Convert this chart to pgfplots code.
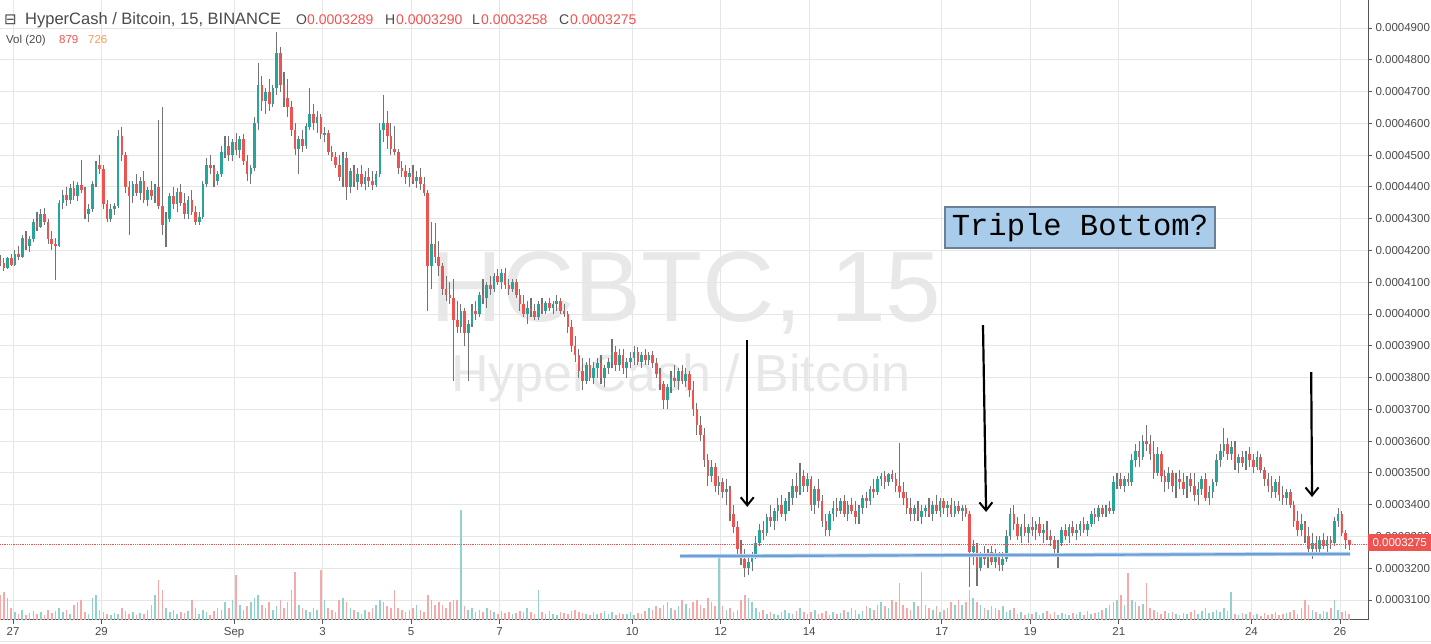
\documentclass[border=0pt]{standalone}
\usepackage{pgfplots}
\pgfplotsset{compat=1.18}
\usepackage{pgfplotstable}
\usepackage{fontspec}
\setmainfont{Liberation Sans}
\newfontfamily\dejavu{DejaVu Sans}
\newfontfamily\mono{Liberation Mono}
\usetikzlibrary{arrows.meta}
\definecolor{upc}{HTML}{26A69A}
\definecolor{dnc}{HTML}{EF5350}
\definecolor{wick}{HTML}{737375}
\definecolor{upv}{HTML}{93D2CC}
\definecolor{dnv}{HTML}{F7A9A7}
\definecolor{gridc}{HTML}{E6E6E6}
\definecolor{wm}{HTML}{E8E8E8}
\definecolor{txt}{HTML}{4A4A4A}
\definecolor{axc}{HTML}{555555}
\definecolor{bline}{HTML}{6A9FD8}
\definecolor{boxf}{HTML}{A8CCEA}
\definecolor{boxd}{HTML}{6B7F95}
\definecolor{orng}{HTML}{FF9850}
% price in units of 1e-7 BTC, v = volume bar height
\pgfplotstableread{
o h l c v
4170 4185 4150 4160 25
4160 4175 4135 4145 28
4145 4180 4140 4175 22
4175 4190 4150 4155 12
4155 4200 4150 4190 8
4190 4215 4170 4180 6
4180 4250 4175 4240 10
4240 4260 4200 4215 5
4215 4245 4195 4235 7
4235 4300 4225 4290 9
4290 4320 4260 4275 6
4275 4330 4270 4315 8
4315 4335 4280 4290 5
4290 4300 4220 4235 10
4235 4260 4200 4220 7
4220 4240 4107 4215 9
4215 4360 4210 4350 12
4350 4390 4330 4375 8
4375 4400 4340 4360 10
4360 4410 4345 4395 6
4395 4420 4360 4370 15
4370 4415 4355 4405 18
4405 4485 4380 4390 20
4390 4400 4300 4315 8
4315 4345 4290 4330 6
4330 4420 4320 4410 22
4410 4480 4400 4470 25
4470 4500 4440 4455 10
4455 4470 4330 4345 8
4345 4360 4290 4300 6
4300 4345 4290 4330 5
4330 4350 4310 4340 7
4340 4580 4335 4560 6
4560 4590 4480 4500 12
4500 4510 4380 4400 9
4400 4420 4250 4370 6
4370 4420 4350 4410 8
4410 4440 4370 4380 5
4380 4430 4360 4420 7
4420 4450 4350 4360 6
4360 4400 4340 4390 10
4390 4420 4360 4370 15
4370 4410 4350 4400 25
4400 4610 4330 4340 40
4340 4650 4250 4280 30
4280 4320 4210 4300 12
4300 4380 4290 4370 8
4370 4400 4330 4345 10
4345 4395 4320 4385 6
4385 4410 4340 4350 8
4350 4380 4300 4315 7
4315 4370 4300 4360 9
4360 4390 4310 4320 20
4320 4340 4280 4290 12
4290 4320 4280 4305 6
4305 4420 4300 4410 10
4410 4490 4400 4470 8
4470 4500 4440 4460 5
4460 4470 4400 4420 9
4420 4450 4405 4440 12
4440 4530 4430 4510 10
4510 4560 4490 4530 18
4530 4560 4480 4500 12
4500 4550 4480 4540 20
4540 4570 4500 4515 45
4515 4560 4490 4550 15
4550 4565 4470 4480 10
4480 4500 4420 4440 14
4440 4470 4410 4460 18
4460 4620 4450 4600 22
4600 4790 4580 4720 25
4720 4750 4640 4670 15
4670 4710 4630 4700 12
4700 4740 4640 4660 18
4660 4720 4650 4710 10
4710 4887 4690 4820 14
4820 4840 4700 4720 20
4720 4760 4650 4680 12
4680 4740 4620 4650 18
4650 4670 4560 4580 30
4580 4600 4500 4520 48
4520 4560 4440 4550 15
4550 4580 4510 4530 12
4530 4600 4520 4590 10
4590 4710 4580 4630 8
4630 4660 4580 4600 12
4600 4640 4570 4620 10
4620 4630 4550 4565 50
4565 4590 4540 4570 20
4570 4580 4500 4510 12
4510 4530 4480 4495 10
4495 4510 4460 4470 8
4470 4500 4420 4430 20
4430 4510 4400 4490 22
4490 4510 4360 4400 18
4400 4460 4380 4450 12
4450 4470 4400 4415 10
4415 4460 4390 4440 8
4440 4470 4400 4410 6
4410 4450 4390 4430 10
4430 4460 4400 4420 8
4420 4450 4390 4405 12
4405 4450 4400 4440 15
4440 4600 4430 4580 20
4580 4690 4540 4600 18
4600 4640 4520 4560 14
4560 4600 4500 4520 12
4520 4590 4500 4510 30
4510 4520 4440 4460 12
4460 4480 4430 4450 10
4450 4470 4410 4430 8
4430 4460 4400 4445 10
4445 4470 4410 4420 12
4420 4450 4395 4430 15
4430 4460 4390 4410 10
4410 4430 4370 4380 8
4380 4390 4010 4150 25
4150 4290 4080 4220 20
4220 4286 4160 4180 15
4180 4230 4120 4150 18
4150 4160 4060 4080 15
4080 4120 4040 4060 12
4060 4100 4030 4050 18
4050 4110 3790 3980 20
3980 4040 3940 3960 20
3960 4030 3940 4010 110
4010 4020 3900 3940 14
3940 3980 3790 3970 10
3970 4030 3960 4010 12
4010 4040 3980 4000 8
4000 4070 3990 4060 10
4060 4110 4030 4050 8
4050 4100 4020 4090 12
4090 4120 4060 4080 10
4080 4130 4070 4120 8
4120 4140 4090 4100 6
4100 4140 4080 4130 9
4130 4145 4080 4090 7
4090 4110 4060 4080 8
4080 4110 4070 4100 6
4100 4110 4050 4060 7
4060 4080 4010 4030 9
4030 4060 3990 4000 8
4000 4040 3970 4020 12
4020 4050 3990 4010 8
4010 4030 3980 3990 6
3990 4040 3980 4030 30
4030 4050 4000 4010 8
4010 4040 4000 4035 6
4035 4050 4010 4020 9
4020 4040 4000 4030 6
4030 4060 4010 4040 5
4040 4050 4000 4010 8
4010 4030 3990 4000 7
4000 4010 3940 3960 6
3960 3980 3880 3900 9
3900 3930 3850 3870 10
3870 3890 3800 3820 8
3820 3860 3760 3790 7
3790 3850 3780 3840 6
3840 3860 3790 3800 5
3800 3850 3780 3830 8
3830 3860 3800 3845 6
3845 3870 3780 3800 7
3800 3840 3770 3830 9
3830 3860 3810 3850 6
3850 3920 3830 3880 8
3880 3900 3820 3840 5
3840 3890 3820 3870 7
3870 3890 3810 3830 6
3830 3860 3800 3850 6
3850 3880 3830 3860 8
3860 3900 3840 3880 5
3880 3895 3840 3850 7
3850 3880 3830 3870 6
3870 3890 3840 3855 9
3855 3880 3840 3870 12
3870 3885 3830 3845 10
3845 3860 3800 3810 14
3810 3830 3760 3780 12
3780 3790 3700 3730 15
3730 3780 3700 3770 18
3770 3820 3750 3800 12
3800 3840 3770 3790 10
3790 3830 3760 3820 14
3820 3840 3780 3790 20
3790 3830 3770 3810 16
3810 3820 3740 3760 12
3760 3790 3680 3700 18
3700 3720 3620 3650 20
3650 3680 3600 3620 15
3620 3640 3520 3540 12
3540 3560 3460 3490 22
3490 3540 3470 3520 18
3520 3530 3440 3460 14
3460 3490 3430 3470 63
3470 3485 3420 3440 14
3440 3480 3400 3450 10
3450 3460 3350 3370 12
3370 3400 3310 3330 8
3330 3350 3240 3260 10
3260 3290 3210 3230 20
3230 3260 3172 3200 25
3200 3240 3180 3220 22
3220 3250 3190 3240 18
3240 3300 3230 3280 12
3280 3340 3270 3320 8
3320 3350 3290 3310 10
3310 3370 3300 3360 6
3360 3400 3330 3350 8
3350 3390 3320 3380 6
3380 3420 3350 3400 5
3400 3430 3360 3370 8
3370 3420 3350 3410 10
3410 3440 3380 3420 7
3420 3480 3400 3460 6
3460 3500 3420 3440 9
3440 3530 3430 3490 12
3490 3510 3440 3460 8
3460 3500 3440 3480 6
3480 3490 3380 3400 8
3400 3460 3370 3450 10
3450 3480 3390 3410 6
3410 3430 3330 3350 7
3350 3370 3300 3320 9
3320 3380 3300 3370 5
3370 3410 3350 3390 8
3390 3420 3360 3380 6
3380 3420 3370 3410 7
3410 3430 3360 3370 10
3370 3410 3350 3400 8
3400 3420 3370 3380 12
3380 3410 3340 3360 10
3360 3400 3340 3390 6
3390 3430 3370 3420 9
3420 3440 3390 3410 14
3410 3460 3400 3450 12
3450 3480 3420 3440 10
3440 3490 3430 3480 15
3480 3500 3460 3490 18
3490 3505 3450 3470 14
3470 3500 3460 3495 12
3495 3510 3470 3480 20
3480 3500 3440 3460 18
3460 3595 3420 3440 37
3440 3470 3400 3420 15
3420 3440 3370 3390 12
3390 3420 3350 3370 10
3370 3400 3350 3390 18
3390 3410 3350 3360 14
3360 3400 3340 3380 48
3380 3400 3360 3390 15
3390 3420 3360 3370 12
3370 3410 3350 3400 10
3400 3430 3370 3380 14
3380 3420 3360 3410 8
3410 3420 3370 3390 10
3390 3410 3360 3400 12
3400 3420 3360 3370 18
3370 3410 3360 3395 15
3395 3410 3370 3380 20
3380 3400 3350 3390 15
3390 3400 3360 3370 18
3370 3380 3140 3250 30
3250 3290 3210 3270 22
3270 3280 3145 3200 18
3200 3250 3190 3240 15
3240 3270 3210 3230 12
3230 3260 3200 3250 10
3250 3270 3210 3220 14
3220 3260 3200 3240 12
3240 3250 3190 3210 10
3210 3250 3190 3230 14
3230 3320 3220 3300 8
3300 3390 3290 3370 10
3370 3400 3320 3340 12
3340 3360 3290 3300 6
3300 3340 3280 3330 8
3330 3370 3300 3310 5
3310 3340 3280 3330 7
3330 3360 3300 3320 6
3320 3350 3290 3340 8
3340 3360 3300 3310 5
3310 3340 3280 3320 7
3320 3350 3290 3300 9
3300 3320 3270 3290 6
3290 3300 3240 3260 8
3260 3290 3200 3280 5
3280 3330 3270 3320 7
3320 3340 3290 3300 6
3300 3340 3280 3330 5
3330 3350 3300 3310 7
3310 3340 3290 3320 6
3320 3350 3300 3340 8
3340 3360 3310 3320 5
3320 3350 3300 3340 9
3340 3380 3330 3370 6
3370 3390 3340 3360 7
3360 3400 3350 3390 8
3390 3400 3360 3370 10
3370 3400 3360 3390 12
3390 3410 3370 3380 15
3380 3490 3370 3470 18
3470 3500 3450 3480 20
3480 3500 3450 3460 25
3460 3490 3440 3480 15
3480 3500 3460 3470 47
3470 3560 3460 3540 20
3540 3590 3520 3570 18
3570 3600 3520 3550 14
3550 3620 3540 3600 16
3600 3650 3570 3590 37
3590 3620 3540 3560 12
3560 3600 3480 3500 10
3500 3580 3490 3560 8
3560 3570 3470 3490 6
3490 3510 3440 3470 9
3470 3520 3450 3500 7
3500 3510 3440 3460 8
3460 3500 3420 3480 6
3480 3510 3450 3470 5
3470 3500 3430 3450 7
3450 3490 3420 3480 6
3480 3500 3440 3460 8
3460 3500 3410 3430 10
3430 3470 3400 3450 6
3450 3490 3430 3480 9
3480 3500 3410 3420 12
3420 3460 3400 3440 7
3440 3480 3420 3470 8
3470 3560 3460 3540 10
3540 3590 3520 3570 8
3570 3640 3550 3590 12
3590 3610 3540 3560 9
3560 3600 3540 3580 28
3580 3600 3510 3530 6
3530 3560 3500 3550 5
3550 3570 3520 3530 7
3530 3570 3510 3560 6
3560 3580 3520 3540 8
3540 3560 3500 3520 5
3520 3570 3510 3550 6
3550 3560 3500 3510 4
3510 3520 3460 3480 7
3480 3500 3440 3460 5
3460 3490 3420 3440 6
3440 3480 3420 3470 8
3470 3490 3410 3430 5
3430 3460 3400 3420 6
3420 3450 3400 3440 7
3440 3450 3390 3400 8
3400 3410 3330 3350 10
3350 3380 3300 3320 6
3320 3370 3300 3340 12
3340 3350 3280 3300 20
3300 3330 3240 3260 15
3260 3310 3230 3280 10
3280 3300 3240 3260 8
3260 3300 3250 3290 6
3290 3310 3260 3270 9
3270 3300 3250 3290 8
3290 3300 3260 3280 12
3280 3360 3270 3350 20
3350 3390 3330 3370 10
3370 3380 3300 3310 8
3310 3320 3260 3289 9
3289 3290 3258 3275 6
}\candles
\begin{document}
\begin{tikzpicture}
\useasboundingbox (0pt,-24pt) rectangle (1431pt,620pt);
% watermark
\node[anchor=base, text=wm, font=\fontsize{100}{100}\selectfont, inner sep=0] at (686pt,298pt) {HCBTC, 15};
\node[anchor=base, text=wm, font=\fontsize{52}{52}\selectfont, inner sep=0] at (681pt,228pt) {HyperCash / Bitcoin};
\begin{axis}[
  at={(0pt,0pt)}, anchor=south west, scale only axis,
  width=1368pt, height=620pt,
  xmin=-0.294, xmax=30.635, ymin=3037, ymax=4988.1,
  axis x line*=bottom, axis y line*=right,
  axis line style={axc, line width=1pt},
  tick align=outside, major tick length=4pt,
  tick style={axc, line width=0.8pt},
  xtick={0,2,5,7,9,11,14,16,18,21,23,25,28,30},
  xticklabels={27,29,Sep,3,5,7,10,12,14,17,19,21,24,26},
  ytick={3100,3200,3300,3400,3500,3600,3700,3800,3900,4000,4100,4200,4300,4400,4500,4600,4700,4800,4900},
  yticklabels={0.0003100,0.0003200,0.0003300,0.0003400,0.0003500,0.0003600,0.0003700,0.0003800,0.0003900,0.0004000,0.0004100,0.0004200,0.0004300,0.0004400,0.0004500,0.0004600,0.0004700,0.0004800,0.0004900},
  ticklabel style={font=\fontsize{11.5}{13}\selectfont, text=txt},
  grid=major, major grid style={gridc, line width=0.8pt},
  clip=true,
]
% volume
\addplot[ycomb, draw=upv, line width=1.6pt, mark=none,
  restrict expr to domain={\thisrow{c}-\thisrow{o}}{0:100000}]
  table[x expr=\coordindex/12-0.29, y expr=3037+3.147*\thisrow{v}] {\candles};
\addplot[ycomb, draw=dnv, line width=1.6pt, mark=none,
  restrict expr to domain={\thisrow{o}-\thisrow{c}}{0.5:100000}]
  table[x expr=\coordindex/12-0.29, y expr=3037+3.147*\thisrow{v}] {\candles};
% wicks
\addplot[draw=none, mark=none,
  error bars/.cd, y dir=both, y explicit, error mark=none,
  error bar style={draw=wick, solid, line width=1.1pt}]
  table[x expr=\coordindex/12-0.29, y expr=(\thisrow{h}+\thisrow{l})/2,
        y error expr=(\thisrow{h}-\thisrow{l})/2] {\candles};
% bodies up
\addplot[draw=none, mark=none,
  restrict expr to domain={\thisrow{c}-\thisrow{o}}{0:100000},
  error bars/.cd, y dir=both, y explicit, error mark=none,
  error bar style={draw=upc, solid, line width=2.6pt}]
  table[x expr=\coordindex/12-0.29, y expr=(\thisrow{o}+\thisrow{c})/2,
        y error expr=abs(\thisrow{c}-\thisrow{o})/2] {\candles};
% bodies down
\addplot[draw=none, mark=none,
  restrict expr to domain={\thisrow{o}-\thisrow{c}}{0.5:100000},
  error bars/.cd, y dir=both, y explicit, error mark=none,
  error bar style={draw=dnc, solid, line width=2.6pt}]
  table[x expr=\coordindex/12-0.29, y expr=(\thisrow{o}+\thisrow{c})/2,
        y error expr=abs(\thisrow{c}-\thisrow{o})/2] {\candles};
% annotations
\draw[dnc, densely dotted, line width=0.8pt] (axis cs:-0.294,3275) -- (axis cs:30.635,3275);
\draw[bline!45, line width=4pt] (axis cs:15.08,3238) -- (axis cs:30.23,3245);
\draw[bline, line width=2.2pt] (axis cs:15.08,3238) -- (axis cs:30.23,3245);
\draw[black, line width=2.2pt, -{Straight Barb[length=8pt,width=13pt,line width=2pt]}] (axis cs:16.60,3918) -- (axis cs:16.60,3393);
\draw[black, line width=2.2pt, -{Straight Barb[length=8pt,width=13pt,line width=2pt]}] (axis cs:21.93,3965) -- (axis cs:22.00,3377);
\draw[black, line width=2.2pt, -{Straight Barb[length=8pt,width=13pt,line width=2pt]}] (axis cs:29.35,3817) -- (axis cs:29.37,3424);
\end{axis}
% current price label
\node[fill=dnc, text=white, font=\fontsize{11.5}{13}\selectfont, minimum width=63pt, minimum height=17pt, inner sep=0, anchor=west] at (1368pt,77pt) {0.0003275};
% text box
\node[draw=boxd, fill=boxf, line width=1.2pt, minimum width=270pt, minimum height=41pt, inner sep=0,
  font=\mono\fontsize{30.5}{32}\selectfont] at (1080pt,392.5pt) {Triple Bottom?};
% header
\node[anchor=base west, inner sep=0, text=txt, font=\dejavu\fontsize{15}{18}\selectfont] at (4pt,595pt) {⊟};
\node[anchor=base west, inner sep=0, text=txt, font=\fontsize{16.5}{18}\selectfont] at (25pt,595pt) {HyperCash / Bitcoin, 15, BINANCE};
\node[anchor=base west, inner sep=0, text=txt, font=\fontsize{14}{16}\selectfont] at (296pt,595pt) {O};
\node[anchor=base west, inner sep=0, text=dnc, font=\fontsize{14}{16}\selectfont] at (307pt,595pt) {0.0003289};
\node[anchor=base west, inner sep=0, text=txt, font=\fontsize{14}{16}\selectfont] at (385pt,595pt) {H};
\node[anchor=base west, inner sep=0, text=dnc, font=\fontsize{14}{16}\selectfont] at (396pt,595pt) {0.0003290};
\node[anchor=base west, inner sep=0, text=txt, font=\fontsize{14}{16}\selectfont] at (472pt,595pt) {L};
\node[anchor=base west, inner sep=0, text=dnc, font=\fontsize{14}{16}\selectfont] at (481pt,595pt) {0.0003258};
\node[anchor=base west, inner sep=0, text=txt, font=\fontsize{14}{16}\selectfont] at (559pt,595pt) {C};
\node[anchor=base west, inner sep=0, text=dnc, font=\fontsize{14}{16}\selectfont] at (570pt,595pt) {0.0003275};
\node[anchor=base west, inner sep=0, text=txt, font=\fontsize{11.5}{13}\selectfont] at (6pt,576pt) {Vol (20)};
\node[anchor=base west, inner sep=0, text=dnc, font=\fontsize{11.5}{13}\selectfont] at (59pt,576pt) {879};
\node[anchor=base west, inner sep=0, text=orng, font=\fontsize{11.5}{13}\selectfont] at (88pt,576pt) {726};
\draw[gridc, line width=1pt] (0pt,-22pt) -- (1431pt,-22pt);
\end{tikzpicture}
\end{document}
